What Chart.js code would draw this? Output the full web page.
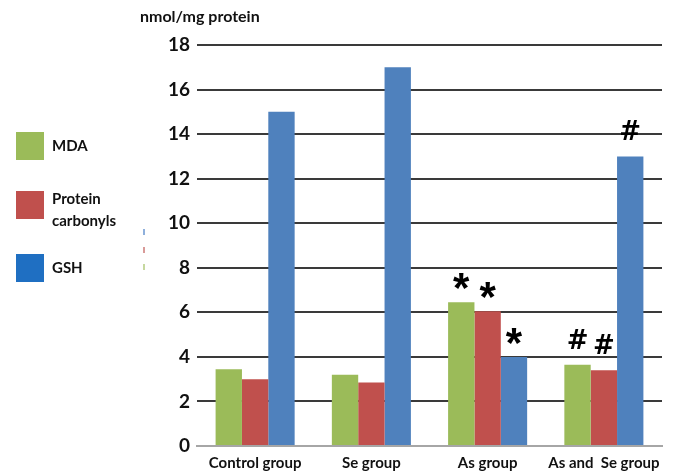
<!DOCTYPE html>
<html>
<head>
<meta charset="utf-8">
<script src="https://cdn.jsdelivr.net/npm/chart.js@4.4.0/dist/chart.umd.min.js"></script>
<style>
  body { margin: 0; background: #fff; }
  #wrap { position: relative; width: 677px; height: 472px; }
  #c { position: absolute; left: 0; top: 0; }
  .lbl { position: absolute; font-family: Lato, "Open Sans", sans-serif; font-weight: bold; color: #111; }
  .sq { position: absolute; width: 28px; height: 28px; }
  .tick { position: absolute; width: 2px; height: 6px; }
</style>
</head>
<body>
<div id="wrap">
  <canvas id="c" width="677" height="472"></canvas>
  <div class="lbl" style="left:140px; top:6px; font-size:16px;">nmol/mg protein</div>

  <div class="sq" style="left:16px; top:132px; background:#9bbb59;"></div>
  <div class="lbl" style="left:52px; top:136px; font-size:15px;">MDA</div>
  <div class="sq" style="left:16px; top:191px; background:#c0504d;"></div>
  <div class="lbl" style="left:52px; top:187px; font-size:15px; line-height:22px;">Protein<br>carbonyls</div>
  <div class="sq" style="left:16px; top:254px; background:#1f6fc2;"></div>
  <div class="lbl" style="left:52px; top:258px; font-size:15px;">GSH</div>

  <div class="tick" style="left:143px; top:229px; background:#8fb0dc;"></div>
  <div class="tick" style="left:143px; top:247px; background:#d99a98;"></div>
  <div class="tick" style="left:143px; top:264px; background:#c6d89f;"></div>
</div>
<script>
const groups = ['Control group', 'Se group', 'As group', 'As and  Se group']
const mda = [3.45, 3.2, 6.45, 3.65]
const carbonyls = [3.0, 2.85, 6.05, 3.4]
const gsh = [15.0, 17.0, 4.0, 13.0]
const mdaMarks = ['', '', '*', '#']
const carbonylMarks = ['', '', '*', '#']
const gshMarks = ['', '', '*', '#']

const markPlugin = {
    id: 'marks',
    afterDatasetsDraw(chart) {
        const ctx = chart.ctx
        const allMarks = [mdaMarks, carbonylMarks, gshMarks]
        ctx.save()
        ctx.fillStyle = '#000'
        ctx.textAlign = 'center'
        ctx.textBaseline = 'alphabetic'
        allMarks.forEach((marks, i) => {
            const meta = chart.getDatasetMeta(i)
            marks.forEach((m, j) => {
                if (!m) return
                const bar = meta.data[j]
                if (m === '*') {
                    ctx.font = 'bold 42px "Liberation Sans", sans-serif'
                    ctx.fillText(m, bar.x, bar.y)
                } else {
                    ctx.font = 'bold 26px "DejaVu Sans", sans-serif'
                    ctx.fillText(m, bar.x, bar.y - 16)
                }
            })
        })
        ctx.restore()
    }
}

new Chart(document.getElementById('c').getContext('2d'), {
    type: 'bar',
    data: {
        labels: groups,
        datasets: [
            { label: 'MDA', data: mda, backgroundColor: '#9bbb59' },
            { label: 'Protein carbonyls', data: carbonyls, backgroundColor: '#c0504d' },
            { label: 'GSH', data: gsh, backgroundColor: '#4f81bd' }
        ]
    },
    options: {
        responsive: false,
        animation: false,
        layout: { padding: { top: 45, right: 15, bottom: 0, left: 0 } },
        datasets: { bar: { categoryPercentage: 0.68, barPercentage: 1.0 } },
        plugins: { legend: { display: false }, tooltip: { enabled: false } },
        scales: {
            x: {
                afterFit(scale) { scale.height = 26 },
                grid: { display: false },
                border: { color: '#a6a6a6', width: 2 },
                ticks: {
                    color: '#111', padding: 0, maxRotation: 0, minRotation: 0, autoSkip: false,
                    font: { family: 'Lato', weight: 'bold', size: 15 }
                }
            },
            y: {
                min: 0,
                max: 18,
                afterFit(scale) { scale.width = 197 },
                border: { display: false },
                grid: {
                    drawTicks: false,
                    lineWidth: 2,
                    color: c => c.tick.value === 0 ? '#a6a6a6' : '#3a3a3a'
                },
                ticks: { stepSize: 2, padding: 7, color: '#111', font: { family: 'Lato', weight: 'bold', size: 19 } }
            }
        }
    },
    plugins: [markPlugin]
})
</script>
</body>
</html>
